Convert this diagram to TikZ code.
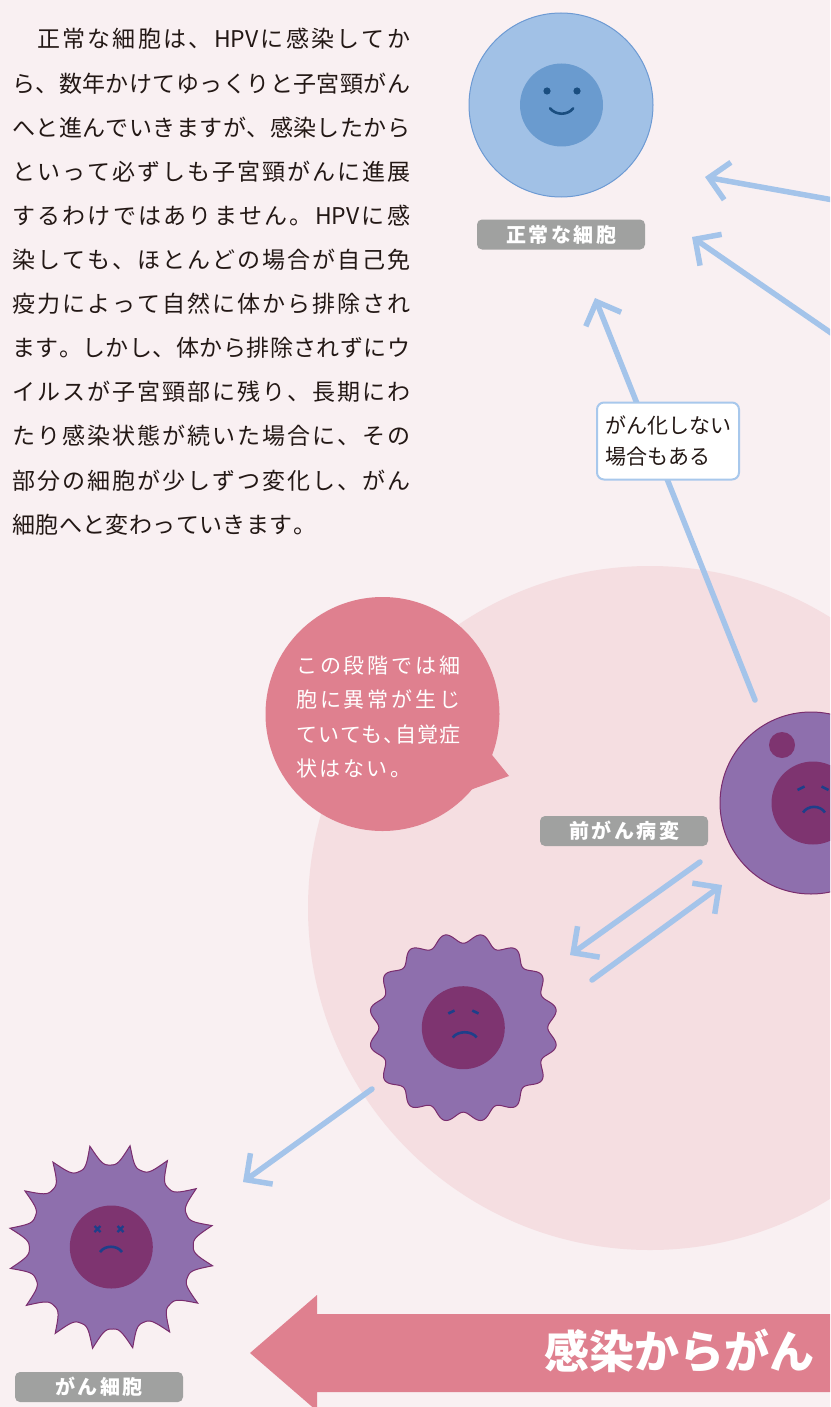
\documentclass[tikz,border=0pt]{standalone}
\usepackage{fontspec}
\setmainfont{Noto Sans CJK JP}
\usetikzlibrary{arrows.meta}

\definecolor{bg}{HTML}{F9F0F2}
\definecolor{zone}{HTML}{F5DEE1}
\definecolor{rose}{HTML}{DF808F}
\definecolor{tagGray}{HTML}{A0A1A0}
\definecolor{arrowblue}{HTML}{A4C4EA}
\definecolor{noteEdge}{HTML}{A8C8EC}
\definecolor{ink}{HTML}{231815}
\definecolor{cellBlue}{HTML}{A1C1E6}
\definecolor{cellBlueEdge}{HTML}{6D9AD3}
\definecolor{nucBlue}{HTML}{6A9BCF}
\definecolor{faceBlue}{HTML}{1A4E80}
\definecolor{cellPurple}{HTML}{8E6FAD}
\definecolor{cellPurpleEdge}{HTML}{7A2D6E}
\definecolor{nucPurple}{HTML}{7E3470}
\definecolor{faceNavy}{HTML}{1E3F8A}

% spread the tokens of #2 evenly over a box of width #1
\def\sprA#1#2\sprEnd{#1\if\relax\detokenize{#2}\relax\else\hfil\sprA#2\sprEnd\fi}
\newcommand\spreadto[2]{\hbox to #1{\sprA#2\sprEnd}}
\newcommand\myBodyFont{\fontsize{23pt}{23pt}\selectfont}
\newcommand\myBubbleFont{\fontsize{21pt}{21pt}\selectfont}
\newcommand\myTagFont{\bfseries\fontsize{20pt}{20pt}\selectfont}

\begin{document}
\begin{tikzpicture}[x=1pt,y=-1pt,
  declare function={
    starR(\a)=82+21*(1.001-abs(sin(8*\a+84)))*sqrt(1.001-abs(sin(8*\a+84)));
    wavR(\a)=89.5-5*cos(16*\a);
  },
  arr/.style={draw=arrowblue, line width=5.5pt, line cap=round,
    -{Straight Barb[length=19pt,width=38pt]}},
  tag/.style={fill=tagGray, rounded corners=5pt, minimum width=168pt,
    minimum height=30pt, inner sep=0pt, text=white, font=\myTagFont},
  bodytext/.style={anchor=base west, inner sep=0pt, text=ink, font=\myBodyFont},
  bubbletext/.style={anchor=base west, inner sep=0pt, text=white, font=\myBubbleFont},
  purplecell/.style={fill=cellPurple, draw=cellPurpleEdge, line width=1pt},
  nucleus/.style={circle, fill=nucPurple, inner sep=0pt, minimum size=83pt},
  brow/.style={draw=faceNavy, line width=2.6pt},
]
\path[use as bounding box] (0,0) rectangle (830,1407);
\clip (0,0) rectangle (830,1407);
\fill[bg] (0,0) rectangle (830,1407);

% pale zone behind the lesion stages
\fill[zone] (650,908) circle[radius=342];

% explanatory paragraph
\node[bodytext] (p1)  at (37,48)  {\spreadto{373pt}{正常な細胞は、{HPV}に感染してか}};
\node[bodytext] (p2)  at (12,92.1)  {\spreadto{398pt}{ら、数年かけてゆっくりと子宮頸がん}};
\node[bodytext] (p3)  at (12,136.2) {\spreadto{398pt}{へと進んでいきますが、感染したから}};
\node[bodytext] (p4)  at (12,180.3) {\spreadto{398pt}{といって必ずしも子宮頸がんに進展}};
\node[bodytext] (p5)  at (12,224.4) {\spreadto{398pt}{するわけではありません。{HPV}に感}};
\node[bodytext] (p6)  at (12,268.5) {\spreadto{398pt}{染しても、ほとんどの場合が自己免}};
\node[bodytext] (p7)  at (12,312.6) {\spreadto{398pt}{疫力によって自然に体から排除され}};
\node[bodytext] (p8)  at (12,356.7) {\spreadto{398pt}{ます。しかし、体から排除されずにウ}};
\node[bodytext] (p9)  at (12,400.8) {\spreadto{398pt}{イルスが子宮頸部に残り、長期にわ}};
\node[bodytext] (p10) at (12,444.9) {\spreadto{398pt}{たり感染状態が続いた場合に、その}};
\node[bodytext] (p11) at (12,489.0) {\spreadto{398pt}{部分の細胞が少しずつ変化し、がん}};
\node[bodytext] (p12) at (12,533.1) {\spreadto{304pt}{細胞へと変わっていきます。}};

% arrow end points
\coordinate (inA)  at (850,203);
\coordinate (tipA) at (705,177);
\coordinate (inB)  at (850,346);
\coordinate (tipB) at (692,237);
\coordinate (upS)  at (755,700);
\coordinate (upT)  at (595,298);
\coordinate (bkS)  at (700,862);
\coordinate (bkT)  at (570,955);
\coordinate (fwS)  at (592,980);
\coordinate (fwT)  at (722,885);
\coordinate (dnS)  at (372,1089);
\coordinate (dnT)  at (243,1182);

\draw[arr] (inA) -- (tipA);
\draw[arr] (inB) -- (tipB);
\draw[arr] (upS) -- (upT);
\draw[arr] (bkS) -- (bkT);
\draw[arr] (fwS) -- (fwT);
\draw[arr] (dnS) -- (dnT);

% note on the regression path
\node[draw=noteEdge, line width=2pt, fill=white, rounded corners=7pt,
  minimum width=142pt, minimum height=77pt, align=left, text=ink,
  font=\fontsize{21pt}{31pt}\selectfont] (note) at (668,441)
  {がん化しない\\場合もある};

% normal cell
\node[circle, fill=cellBlue, draw=cellBlueEdge, line width=1pt,
  minimum size=184pt, inner sep=0pt] (normal) at (561,105) {};
\node[circle, fill=nucBlue, minimum size=83pt, inner sep=0pt] (normalNuc) at (561.5,105) {};
\fill[faceBlue] (547,91) circle[radius=3.6];
\fill[faceBlue] (577,91) circle[radius=3.6];
\draw[faceBlue, line width=2.6pt, line cap=round]
  (550,108.3) .. controls (556,115.5) and (567.5,115.5) .. (573.3,108.3);
\node[tag] (normalTag) at (561,234.5) {\spreadto{110pt}{正常な細胞}};

% precancerous lesion
\node[circle, purplecell, minimum size=182pt, inner sep=0pt] (pre) at (811,803) {};
\node[circle, fill=nucPurple, minimum size=26pt, inner sep=0pt] (preDot) at (782,745) {};
\node[nucleus] (preNuc) at (813,803) {};
\draw[brow] (797.5,790) -- (804.5,786.5);
\draw[brow] (821.5,786.5) -- (828.5,790);
\draw[brow] (803,812.5) .. controls (808,805) and (820,805) .. (825,812.5);
\node[tag] (preTag) at (624,831) {\spreadto{110pt}{前がん病変}};

% scalloped stage
\draw[purplecell] plot[domain=0:360, samples=481, variable=\t]
  ({463.3+wavR(\t)*cos(\t)},{1027.7-wavR(\t)*sin(\t)}) -- cycle;
\node[nucleus] (midNuc) at (463.3,1027.7) {};
\draw[brow] (448.3,1013.5) -- (454.5,1010.5);
\draw[brow] (472.3,1010.5) -- (478.5,1013.5);
\draw[brow] (452.7,1037.5) .. controls (458,1030.5) and (471.5,1030.5) .. (476.7,1037.5);

% cancer cell
\draw[purplecell] plot[domain=0:360, samples=481, variable=\t]
  ({111.3+starR(\t)*cos(\t)},{1247-starR(\t)*sin(\t)}) -- cycle;
\node[nucleus] (canNuc) at (111.3,1247) {};
\draw[faceNavy, line width=2.2pt] (94.5,1226) -- (100.5,1232) (94.5,1232) -- (100.5,1226);
\draw[faceNavy, line width=2.2pt] (117.5,1226) -- (123.5,1232) (117.5,1232) -- (123.5,1226);
\draw[brow] (100,1252) .. controls (105,1245) and (117,1245) .. (122,1252);
\node[tag] (canTag) at (99,1387) {\spreadto{87pt}{がん細胞}};

% speech bubble
\fill[rose] (480,740) -- (509,776) -- (470,790) -- cycle;
\node[circle, fill=rose, minimum size=234pt, inner sep=0pt] (bubble) at (382.5,714) {};
\node[bubbletext] (b1) at (296,673.3) {\spreadto{164pt}{この段階では細}};
\node[bubbletext] (b2) at (296,707.8) {\spreadto{164pt}{胞に異常が生じ}};
\node[bubbletext] (b3) at (296,742.3) {\spreadto{164pt}{ていても{、\kern-.5em}自覚症}};
\node[bubbletext] (b4) at (296,776.8) {\spreadto{115pt}{状はない。}};

% progression arrow
\fill[rose] (840,1314) -- (317,1314) -- (317,1295) -- (250,1353)
  -- (317,1411) -- (317,1392) -- (840,1392) -- cycle;
\node[anchor=base, inner sep=0pt, text=white,
  font=\bfseries\fontsize{45pt}{45pt}\selectfont] (progress) at (679.5,1368.5) {感染からがん};
\end{tikzpicture}
\end{document}
